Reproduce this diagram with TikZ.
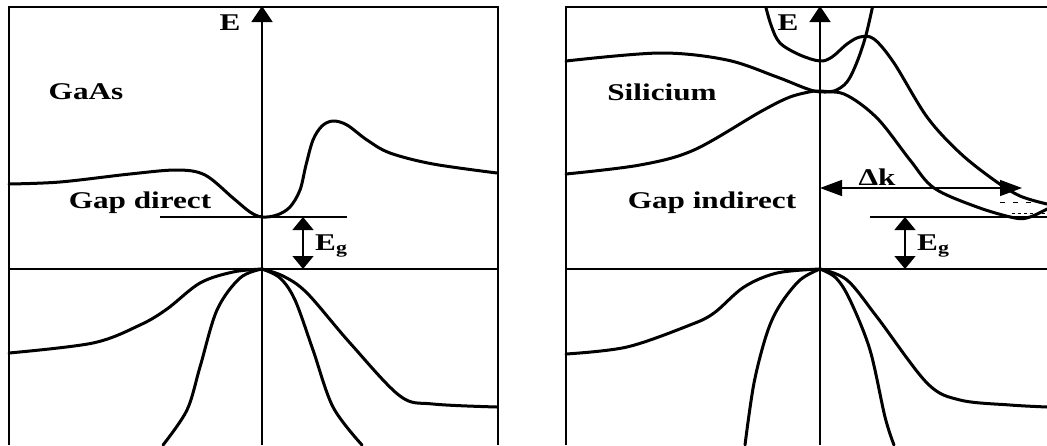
\documentclass[tikz,border=0pt]{standalone}
\usepackage{fontspec}
\usepackage{graphicx}
\setmainfont{Liberation Serif}
\usetikzlibrary{arrows.meta}
\newcommand\widetxt[1]{\scalebox{1.3}[1]{#1}}
\tikzset{
  band/.style={line width=3pt, line join=round, line cap=round},
  thin/.style={line width=1.3pt},
  axisline/.style={line width=1.5pt},
  frame/.style={line width=2.5pt},
  lbl/.style={font=\bfseries\fontsize{24}{27}\selectfont, inner sep=0pt},
  eaxis/.style={axisline, -{Triangle[length=16pt,width=21pt]}},
  egarr/.style={line width=1.5pt, {Triangle[length=13pt,width=21pt]}-{Triangle[length=13pt,width=21pt]}},
  dkarr/.style={line width=1.5pt, {Triangle[length=22pt,width=16pt]}-{Triangle[length=22pt,width=16pt]}},
}
\begin{document}
\begin{tikzpicture}[x=1pt,y=-1pt]
\useasboundingbox (0,0) rectangle (1047,445);
% ================= LEFT PANEL (GaAs) =================
\draw[frame] (9,445) -- (9,7) -- (498,7) -- (498,445);
\coordinate (La0) at (262,445);
\coordinate (La1) at (262,6);
\draw[eaxis] (La0) -- (La1);
\node[lbl] (LE) at (230,23) {\widetxt{E}};
\node[lbl] (Lname) at (86,92) {\widetxt{GaAs}};
\node[lbl] (Lgap) at (140,203) {\widetxt{Gap direct}};
% reference lines
\coordinate (Lc1) at (160,217); \coordinate (Lc2) at (347,217);
\draw[thin] (Lc1) -- (Lc2);
\coordinate (Lv1) at (9,269); \coordinate (Lv2) at (498,269);
\draw[thin] (Lv1) -- (Lv2);
\coordinate (LgT) at (303,217); \coordinate (LgB) at (303,269);
\draw[egarr] (LgT) -- (LgB);
\node[lbl, anchor=west] (LEg) at (315,246) {\widetxt{E\textsubscript{g}}};
% conduction band
\draw[band] plot[smooth, tension=0.55] coordinates {
 (9,184) (60,182) (130,174) (177,170) (205,175) (233,198) (250,212) (262,217)
 (277,215) (290,207) (300,190) (306,165) (313,140) (322,126) (333,121)
 (347,125) (367,140) (390,153) (433,164) (497,173)};
% valence bands
\draw[band] plot[smooth, tension=0.55] coordinates {
 (9,353) (93,343) (140,325) (167,309) (200,283) (233,272) (262,269)};
\draw[band] plot[smooth, tension=0.55] coordinates {
 (262,269) (240,278) (217,310) (200,367) (187,410) (163,445)};
\draw[band] plot[smooth, tension=0.55] coordinates {
 (262,269) (280,278) (295,300) (313,350) (333,407) (362,445)};
\draw[band] plot[smooth, tension=0.55] coordinates {
 (262,269) (283,276) (307,293) (350,343) (400,396) (433,404) (497,407)};
% ================= RIGHT PANEL (Silicium) =================
\draw[frame] (566,445) -- (566,7) -- (1047,7);
\coordinate (Ra0) at (820,445);
\coordinate (Ra1) at (820,6);
\draw[eaxis] (Ra0) -- (Ra1);
\node[lbl] (RE) at (788,23) {\widetxt{E}};
\node[lbl] (Rname) at (662,92) {\widetxt{Silicium}};
\node[lbl] (Rgap) at (712,203) {\widetxt{Gap indirect}};
\coordinate (Rc1) at (870,217); \coordinate (Rc2) at (1047,217);
\draw[thin] (Rc1) -- (Rc2);
\coordinate (Rv1) at (566,269); \coordinate (Rv2) at (1047,269);
\draw[thin] (Rv1) -- (Rv2);
\coordinate (RgT) at (905,217); \coordinate (RgB) at (905,269);
\draw[egarr] (RgT) -- (RgB);
\node[lbl, anchor=west] (REg) at (917,246) {\widetxt{E\textsubscript{g}}};
\coordinate (Dk1) at (820,188); \coordinate (Dk2) at (1022,188);
\draw[dkarr] (Dk1) -- (Dk2);
\node[lbl] (Dk) at (877,177) {\widetxt{Δk}};
% conduction bands
\begin{scope}
\clip (566,7) rectangle (1047,445);
\draw[band] plot[smooth, tension=0.55] coordinates {
 (764,0) (771,25) (780,43) (800,55) (820,61) (832,57) (847,44) (860,37)
 (874,39) (894,63) (927,117) (960,153) (994,180) (1020,196) (1047,204)};
\draw[band] plot[smooth, tension=0.55] coordinates {
 (874,0) (866,35) (857,62) (847,82) (834,91) (820,91) (814,91)};
\end{scope}
\draw[band] plot[smooth, tension=0.55] coordinates {
 (566,61) (660,53) (727,60) (777,77) (814,91) (844,94) (877,118) (910,160)
 (934,188) (977,207) (1015,218) (1030,217) (1047,209)};
\draw[band] plot[smooth, tension=0.55] coordinates {
 (566,174) (640,165) (694,150) (760,112) (790,97) (814,91)};
\draw[line width=1pt, dash pattern=on 5pt off 8pt] (1000,202) -- (1047,202);
\draw[line width=1pt, dash pattern=on 3pt off 3pt] (1012,213) -- (1047,213);
% valence bands
\draw[band] plot[smooth, tension=0.55] coordinates {
 (566,354) (627,347) (690,325) (714,313) (744,287) (777,273) (820,269)};
\draw[band] plot[smooth, tension=0.55] coordinates {
 (820,269) (800,280) (780,305) (767,333) (754,383) (745,445)};
\draw[band] plot[smooth, tension=0.55] coordinates {
 (820,269) (836,278) (850,300) (870,350) (885,417) (894,445)};
\draw[band] plot[smooth, tension=0.55] coordinates {
 (820,269) (847,280) (877,317) (927,383) (960,400) (1010,405) (1047,407)};
\end{tikzpicture}
\end{document}
